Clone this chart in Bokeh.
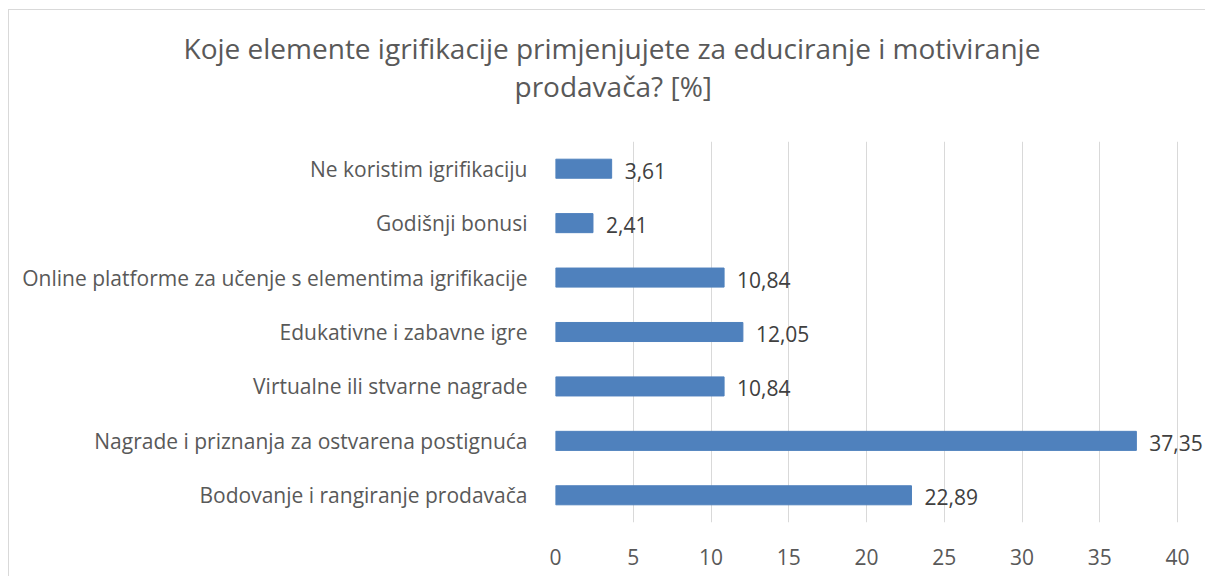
from bokeh.plotting import figure
from bokeh.models import ColumnDataSource, Range1d, FactorRange, FixedTicker, LabelSet, Title
from bokeh.core.properties import value
from bokeh.embed import file_html
from bokeh.resources import INLINE

categories = [
    "Ne koristim igrifikaciju",
    "Godišnji bonusi",
    "Online platforme za učenje s elementima igrifikacije",
    "Edukativne i zabavne igre",
    "Virtualne ili stvarne nagrade",
    "Nagrade i priznanja za ostvarena postignuća",
    "Bodovanje i rangiranje prodavača",
]
values = [3.61, 2.41, 10.84, 12.05, 10.84, 37.35, 22.89]
labels = ["3,61", "2,41", "10,84", "12,05", "10,84", "37,35", "22,89"]
x_ticks = [0, 5, 10, 15, 20, 25, 30, 35, 40]
title_lines = ["Koje elemente igrifikacije primjenjujete za educiranje i motiviranje",
               "prodavača? [%]"]

FONT = "Open Sans"
W, H = 1197, 567

src = ColumnDataSource(dict(cat=categories, val=values, lab=labels))

p = figure(
    width=W, height=H,
    y_range=FactorRange(*reversed(categories)),
    x_range=Range1d(0, 41.86),
    output_backend="svg", toolbar_location=None,
    min_border_left=546, min_border_right=0, min_border_top=131, min_border_bottom=55,
)
p.styles = {"border-top": "1px solid #d9d9d9", "border-left": "1px solid #d9d9d9",
            "margin-left": "8px", "margin-top": "9px"}

p.hbar(y="cat", right="val", left=0, height=0.35, source=src,
       fill_color="#4f81bd", line_color="#4f81bd")

p.add_layout(LabelSet(x="val", y="cat", text="lab", source=src, x_offset=13, y_offset=-2,
                      text_baseline="middle", text_font=value(FONT), text_font_size="21px",
                      text_color="#404040"))

# titles: left-aligned to the frame with negative offsets so they centre on the chart
p.add_layout(Title(text=title_lines[1], align="left", offset=-41, standoff=74,
                   text_font=FONT, text_font_size="28px", text_font_style="normal",
                   text_color="#595959"), "above")
p.add_layout(Title(text=title_lines[0], align="left", offset=-372, standoff=-79,
                   text_font=FONT, text_font_size="28px", text_font_style="normal",
                   text_color="#595959"), "above")

p.outline_line_color = None
p.background_fill_color = "white"
p.border_fill_color = "white"

p.xgrid.ticker = FixedTicker(ticks=x_ticks)
p.xgrid.grid_line_color = "#d9d9d9"
p.xgrid.grid_line_width = 1
p.ygrid.grid_line_color = None

p.xaxis.ticker = FixedTicker(ticks=x_ticks)
p.xaxis.axis_line_color = None
p.xaxis.major_tick_line_color = None
p.xaxis.minor_tick_line_color = None
p.xaxis.major_label_text_font = FONT
p.xaxis.major_label_text_font_size = "21px"
p.xaxis.major_label_text_color = "#595959"
p.xaxis.major_label_standoff = 20

p.yaxis.axis_line_color = None
p.yaxis.major_tick_line_color = None
p.yaxis.major_label_text_font = FONT
p.yaxis.major_label_text_font_size = "21px"
p.yaxis.major_label_text_color = "#595959"
p.yaxis.major_label_standoff = 22

open("out.html", "w").write(file_html(p, INLINE))
